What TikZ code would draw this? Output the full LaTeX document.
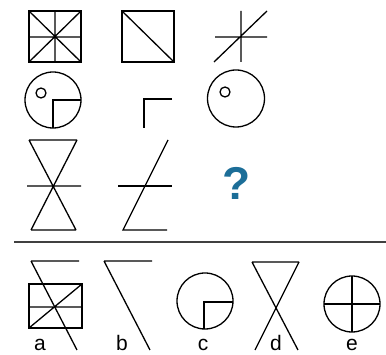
\documentclass[tikz,border=0pt]{standalone}
\usepackage{fontspec}
\setmainfont{Liberation Sans}
\usepackage{xcolor}
\definecolor{qblue}{RGB}{28,110,152}

\begin{document}
\begin{tikzpicture}[
  x=1pt, y=-1pt,
  fig/.style={line width=1.3pt, line cap=butt, line join=miter},
  rule/.style={line width=2pt, draw=black!75},
  optlabel/.style={font=\fontsize{21}{21}\selectfont, inner sep=0pt, anchor=base},
  query/.style={font=\fontsize{46}{46}\selectfont\bfseries, text=qblue, inner sep=0pt}
]
\useasboundingbox (0,0) rectangle (386,355);

%% Row 1
\draw[fig] (29,11) rectangle (81,62);
\draw[fig] (55,11) -- (55,62) (29,37) -- (81,37)
           (29,11) -- (81,62) (29,62) -- (81,11);
\draw[fig] (122,11) rectangle (174,62);
\draw[fig] (122,11) -- (174,62);
\draw[fig] (241,11) -- (241,62) (215,37) -- (267,37) (214,62) -- (267,11);

%% Row 2
\draw[fig] (53,100) circle[radius=28];
\draw[fig] (41,93) circle[radius=5];
\draw[fig] (81,100) -- (53,100) -- (53,128);
\draw[fig] (172,99) -- (144,99) -- (144,128);
\draw[fig] (236,98.5) circle[radius=28.5];
\draw[fig] (225,92) circle[radius=5];

%% Row 3
\draw[fig] (29,140) -- (77,140) (31,230) -- (76,230)
           (29,140) -- (76,230) (77,140) -- (31,230) (27,186) -- (81,186);
\draw[fig] (118,186) -- (172,186);
\draw[fig] (168,140) -- (123,230) -- (167,230);
\node[query] (q) at (236.5,183) {?};

%% Separator
\draw[rule] (14,242.5) -- (386,242.5);

%% Options
\draw[fig] (29,284) rectangle (82,328);
\draw[fig] (29,307) -- (82,307) (29,328) -- (82,284);
\draw[fig] (31,261) -- (79,261) (31,261) -- (77,350);
\draw[fig] (104,261) -- (152,261) (104,261) -- (150,350);
\draw[fig] (205,301) circle[radius=28];
\draw[fig] (233,302) -- (204,302) -- (204,329);
\draw[fig] (252,262) -- (299,262) (252,262) -- (298,350) (299,262) -- (255,350);
\draw[fig] (352,304) circle[radius=28];
\draw[fig] (352,276) -- (352,332) (324,304) -- (380,304);

%% Labels
\node[optlabel] (la) at (40,351) {a};
\node[optlabel] (lb) at (122,351) {b};
\node[optlabel] (lc) at (203,351) {c};
\node[optlabel] (ld) at (276,351) {d};
\node[optlabel] (le) at (352,351) {e};

\end{tikzpicture}
\end{document}
